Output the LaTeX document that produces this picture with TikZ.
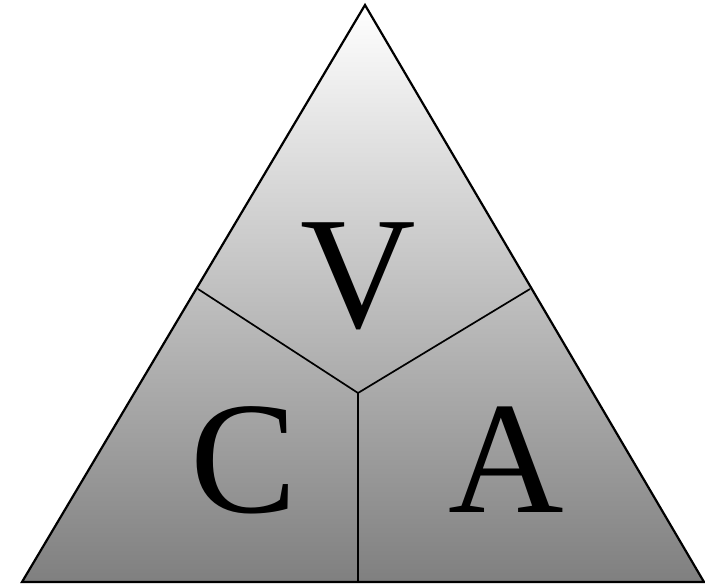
\documentclass[tikz,border=0pt]{standalone}
\usepackage{fontspec}
\setmainfont{Liberation Serif}
\usepackage{tikz}
\usetikzlibrary{positioning,calc}

\begin{document}
\begin{tikzpicture}[
            x=1pt, y=-1pt,
            letter/.style={anchor=base, inner sep=0pt, font=\fontsize{160}{160}\selectfont},
            edge/.style={draw=black, line width=2.2pt, line join=miter},
            divider/.style={draw=black, line width=1.7pt}
        ]
            \useasboundingbox (0,0) rectangle (705,585);
            \coordinate (top) at (365,5);
            \coordinate (bl) at (22,582);
            \coordinate (br) at (704,582);
            \coordinate (mid) at (358,393);
            \coordinate (jl) at (198,289);
            \coordinate (jr) at (530,289);
            \coordinate (jb) at (358,582);
            
            \shade[top color=white, bottom color=black!50] (top) -- (br) -- (bl) -- cycle;
            \draw[divider] (jl) -- (mid) -- (jr);
            \draw[divider] (mid) -- (jb);
            \draw[edge] (top) -- (br) -- (bl) -- cycle;
            
            \node[letter] (volt) at (358,328) {V};
            \node[letter] (cap) at (244,513) {C};
            \node[letter] (amp) at (506,513) {A};
        \end{tikzpicture}
\end{document}
